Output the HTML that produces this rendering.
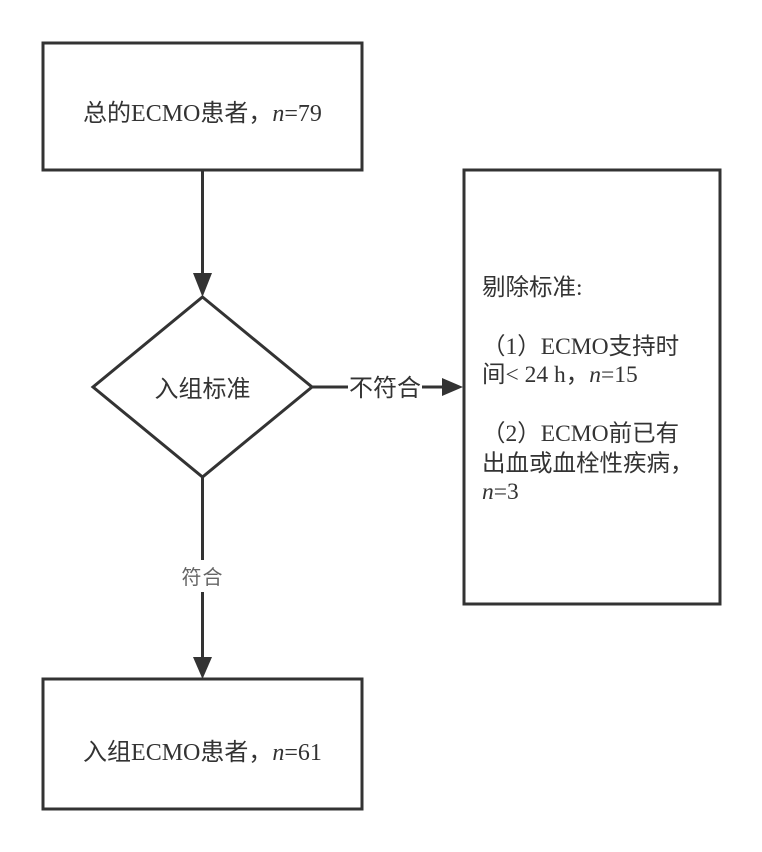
<!DOCTYPE html>
<html><head><meta charset="utf-8"><style>
html,body{margin:0;padding:0;background:#fff;}
svg{display:block;}
.t{font-family:"Liberation Serif","Noto Sans CJK SC",serif;fill:#333;}
.s{font-family:"Noto Sans CJK SC","Liberation Sans",sans-serif;fill:#333;}
</style></head><body>
<svg width="762" height="852" viewBox="0 0 762 852" xmlns="http://www.w3.org/2000/svg">
<rect x="0" y="0" width="762" height="852" fill="#fff"/>
<g stroke="#333" stroke-width="3" fill="none">
<rect x="43" y="43" width="319" height="127"/>
<rect x="464" y="170" width="256" height="434"/>
<rect x="43" y="679" width="319" height="130"/>
<polygon points="202.5,297 312,387 202.5,477 93,387"/>
<line x1="202.5" y1="170" x2="202.5" y2="275"/>
<line x1="202.5" y1="477" x2="202.5" y2="560"/>
<line x1="202.5" y1="592" x2="202.5" y2="660"/>
<line x1="312" y1="387" x2="348" y2="387"/>
<line x1="422" y1="387" x2="444" y2="387"/>
</g>
<g fill="#333">
<polygon points="193,273 212,273 202.5,297"/>
<polygon points="193,657 212,657 202.5,679"/>
<polygon points="442,378 442,396 463,387"/>
</g>
<text class="t" x="202.5" y="121" font-size="24" text-anchor="middle">总的ECMO患者，<tspan font-style="italic">n</tspan>=79</text>
<text class="s" x="202.5" y="397" font-size="24" text-anchor="middle">入组标准</text>
<text class="s" x="385" y="396" font-size="24" text-anchor="middle">不符合</text>
<text class="s" x="202.5" y="584" font-size="20" text-anchor="middle" style="fill:#666" letter-spacing="1">符合</text>
<text class="t" x="202.5" y="760" font-size="24" text-anchor="middle">入组ECMO患者，<tspan font-style="italic">n</tspan>=61</text>
<g class="t" font-size="23.5">
<text class="t" x="482" y="295">剔除标准:</text>
<text class="t" x="482" y="354">（1）ECMO支持时</text>
<text class="t" x="482" y="382">间&lt; 24 h，<tspan font-style="italic">n</tspan>=15</text>
<text class="t" x="482" y="441">（2）ECMO前已有</text>
<text class="t" x="482" y="471">出血或血栓性疾病，</text>
<text class="t" x="482" y="499"><tspan font-style="italic">n</tspan>=3</text>
</g>
</svg>
</body></html>
